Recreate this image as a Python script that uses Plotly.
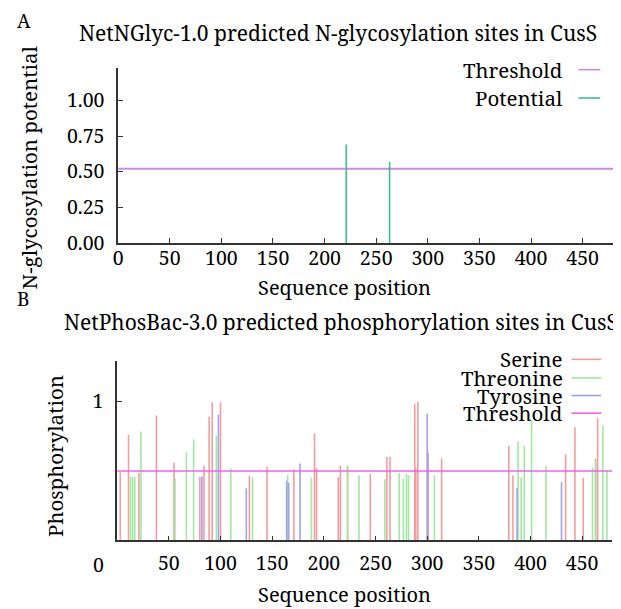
import plotly.graph_objects as go

# ---------------- data ----------------
x_tick_values = [0, 50, 100, 150, 200, 250, 300, 350, 400, 450]
glyc_y_ticks = [0.0, 0.25, 0.5, 0.75, 1.0]
glyc_y_ticktext = ["0.00", "0.25", "0.50", "0.75", "1.00"]

glyc_positions = [221, 263]
glyc_potential = [0.69, 0.57]
glyc_threshold = 0.52

serine_pos = [3, 11, 21, 38, 55, 80, 84, 89, 92, 100, 128, 145, 171, 191, 193,
              214, 216, 223, 245, 261, 264, 288, 289, 291, 301, 314, 379, 383,
              434, 443, 451, 463, 465]
serine_val = [0.49, 0.76, 0.485, 0.90, 0.56, 0.457, 0.54, 0.89, 0.995, 0.995,
              0.465, 0.53, 0.51, 0.77, 0.52, 0.455, 0.54, 0.53, 0.48, 0.60,
              0.60, 0.985, 0.52, 0.998, 0.63, 0.59, 0.68, 0.467, 0.62, 0.815,
              0.45, 0.59, 0.88]

threonine_pos = [13, 15, 17, 23, 56, 67, 74, 96, 110, 131, 165, 188, 223, 234,
                 259, 273, 277, 280, 282, 307, 388, 391, 394, 401, 415, 460,
                 463, 470, 474]
threonine_val = [0.456, 0.456, 0.456, 0.784, 0.445, 0.634, 0.728, 0.756, 0.517,
                 0.455, 0.47, 0.45, 0.54, 0.47, 0.44, 0.486, 0.446, 0.48, 0.47,
                 0.467, 0.713, 0.455, 0.68, 0.86, 0.54, 0.526, 0.57, 0.83, 0.50]

tyrosine_pos = [82, 98, 125, 164, 166, 177, 300, 387, 430]
tyrosine_val = [0.46, 0.905, 0.375, 0.43, 0.415, 0.554, 0.913, 0.38, 0.42]

phos_threshold = 0.5
phos_y_ticks = [1]
seq_length = 480

# ---------------- styles ----------------
W, H = 621, 609
FONT = "Noto Serif"
AXIS = "#333333"
C_GLY_THR = "#c98be8"
C_POT = "#3cbf8f"
C_SER = "#f29a9a"
C_THR = "#9de89d"
C_TYR = "#9d9def"
C_PTHR = "#f060f0"
TICK_SIZE = 19.5


def px(x):
    return x / W


def py(y):
    return 1 - y / H


def stems(pos, val):
    xs, ys = [], []
    for p, v in zip(pos, val):
        xs += [p, p, None]
        ys += [0, v, None]
    return xs, ys


fig = go.Figure()

# Panel A
gx, gy = stems(glyc_positions, glyc_potential)
fig.add_trace(go.Scatter(x=[0, seq_length], y=[glyc_threshold, glyc_threshold],
                         mode="lines", line=dict(color=C_GLY_THR, width=2),
                         xaxis="x", yaxis="y", showlegend=False, name="Threshold"))
fig.add_trace(go.Scatter(x=gx, y=gy, mode="lines", line=dict(color=C_POT, width=1.6),
                         xaxis="x", yaxis="y", showlegend=False, name="Potential"))

# Panel B
for pos, val, col, nm in [(serine_pos, serine_val, C_SER, "Serine"),
                          (threonine_pos, threonine_val, C_THR, "Threonine"),
                          (tyrosine_pos, tyrosine_val, C_TYR, "Tyrosine")]:
    sx, sy = stems(pos, val)
    fig.add_trace(go.Scatter(x=sx, y=sy, mode="lines", line=dict(color=col, width=1.6),
                             xaxis="x2", yaxis="y2", showlegend=False, name=nm,
                             opacity=0.95))
fig.add_trace(go.Scatter(x=[0, seq_length], y=[phos_threshold, phos_threshold],
                         mode="lines", line=dict(color=C_PTHR, width=1.6),
                         xaxis="x2", yaxis="y2", showlegend=False, name="Threshold"))

axis_common = dict(showline=True, linecolor=AXIS, linewidth=1.5, ticks="inside",
                   ticklen=5, tickcolor=AXIS, showgrid=False, zeroline=False,
                   tickfont=dict(family=FONT, size=TICK_SIZE, color="black"))

fig.update_layout(
    width=W, height=H, margin=dict(l=0, r=0, t=0, b=0),
    paper_bgcolor="white", plot_bgcolor="white", showlegend=False,
    font=dict(family=FONT, color="black"),
    xaxis=dict(domain=[px(106), px(606)], range=[0, seq_length + 0.5], anchor="y",
               tickvals=x_tick_values, ticklabelstandoff=-3, **axis_common),
    yaxis=dict(domain=[py(240), py(61)], range=[0, 1.23], anchor="x",
               tickvals=glyc_y_ticks, ticktext=glyc_y_ticktext,
               ticklabelstandoff=8, **axis_common),
    xaxis2=dict(domain=[px(105), px(604)], range=[0, seq_length - 1], anchor="y2",
                tickvals=x_tick_values, ticktext=[""] + [str(v) for v in x_tick_values[1:]],
                ticklabelstandoff=4, **axis_common),
    yaxis2=dict(domain=[py(544), py(361)], range=[0, 1.29], anchor="x2",
                tickvals=phos_y_ticks, ticklabelstandoff=8, **axis_common),
)


def txt(x, y, s, size=20, anchor="center", angle=0):
    fig.add_annotation(x=px(x), y=py(y), xref="paper", yref="paper", text=s,
                       showarrow=False, xanchor=anchor, yanchor="middle",
                       textangle=angle, font=dict(family=FONT, size=size, color="black"))


def seg(x0, x1, y, color):
    fig.add_shape(type="line", xref="paper", yref="paper", x0=px(x0), x1=px(x1),
                  y0=py(y), y1=py(y), line=dict(color=color, width=1.6))


# Panel A texts
txt(11, 13, "A", 19)
txt(328, 26, "NetNGlyc-1.0 predicted N-glycosylation sites in CusS", 21)
txt(334, 286, "Sequence position", 20)
txt(16, 163, "N-glycosylation potential", 20.5, angle=-90)
txt(556, 63, "Threshold", 20.5, anchor="right")
txt(556, 92, "Potential", 20.5, anchor="right")
seg(570, 592, 63, C_GLY_THR)
seg(570, 592, 92, C_POT)

# Panel B texts
txt(10, 297, "B", 19)
txt(331, 321, "NetPhosBac-3.0 predicted phosphorylation sites in CusS", 21)
txt(334, 599, "Sequence position", 20)
txt(43, 458, "Phosphorylation", 20.5, angle=-90)
txt(86, 569, "0", TICK_SIZE)
for label, yy, col in [("Serine", 359, C_SER), ("Threonine", 378, C_THR),
                       ("Tyrosine", 396, C_TYR), ("Threshold", 414, C_PTHR)]:
    txt(556, yy, label, 20.5, anchor="right")
    seg(563, 593, yy, col)

fig.write_html("out.html")
